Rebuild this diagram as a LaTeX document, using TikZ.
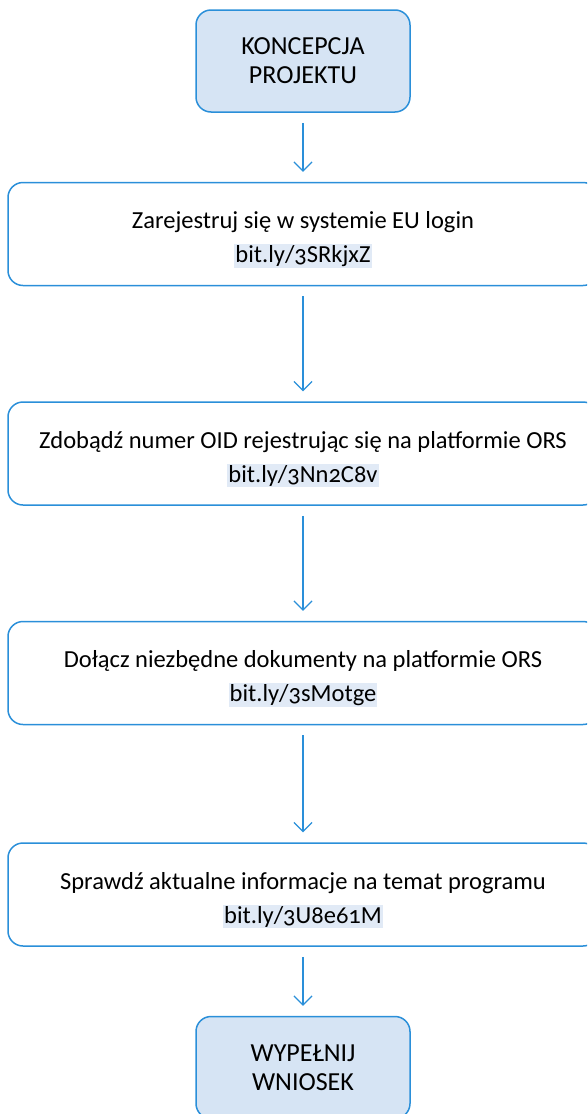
\documentclass[tikz,border=0pt]{standalone}
\usepackage{fontspec}
\setmainfont{Carlito}[Numbers=OldStyle]
\usepackage{xcolor}
\usepackage{tikz}
\usetikzlibrary{chains, positioning, arrows.meta}

\definecolor{flowblue}{HTML}{2A8FD9}
\definecolor{capfill}{HTML}{D6E4F4}
\definecolor{linkbg}{HTML}{E1EAF6}
\newcommand{\linkbox}[1]{{\setlength{\fboxsep}{1pt}\colorbox{linkbg}{#1}}}
\newcommand{\toprule}{\rule{0pt}{28pt}}

\begin{document}
\begin{tikzpicture}[
    start chain = going below,
    every node/.style = {
        draw=flowblue, line width=1.5pt, rounded corners=15pt,
        align=center, text=black,
        on chain, join=by {-{Straight Barb[length=9pt,width=18pt]}, flowblue, line width=1.2pt,
                          shorten <=10pt, shorten >=10pt}
    },
    capbox/.style = {fill=capfill, minimum width=214pt, minimum height=102pt,
                     font=\fontsize{26}{29}\selectfont},
    stepbox/.style = {minimum width=590pt, minimum height=103pt,
                      font=\fontsize{24.5}{34}\selectfont}
  ]
    \useasboundingbox (0pt,0pt) rectangle (587pt,-1114pt);
    \clip (0pt,0pt) rectangle (587pt,-1114pt);
    \node[capbox, join=by {}] (start) at (303pt,-61pt) {KONCEPCJA\\PROJEKTU};  % start
    \node[stepbox, below=69pt of start] (login) {\toprule Zarejestruj się w systemie EU login\\\linkbox{bit.ly/3SRkjxZ}};
    \node[stepbox, below=115pt of login] (oid) {\toprule Zdobądź numer OID rejestrując się na platformie ORS\\\linkbox{bit.ly/3Nn2C8v}};
    \node[stepbox, below=115pt of oid] (docs) {\toprule Dołącz niezbędne dokumenty na platformie ORS\\\linkbox{bit.ly/3sMotge}};
    \node[stepbox, below=117pt of docs] (info) {\toprule Sprawdź aktualne informacje na temat programu\\\linkbox{bit.ly/3U8e61M}};
    \node[capbox, below=69pt of info] (apply) {WYPEŁNIJ\\WNIOSEK};  % koniec
\end{tikzpicture}
\end{document}
